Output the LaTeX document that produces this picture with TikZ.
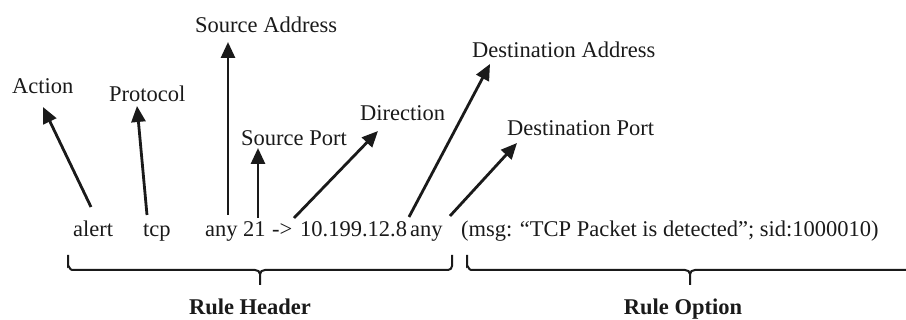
\documentclass[tikz,border=0pt]{standalone}
\usepackage{fontspec}
\setmainfont{Liberation Serif}
\usetikzlibrary{arrows.meta}
\definecolor{ink}{HTML}{1A1A1A}
\tikzset{
  lbl/.style={anchor=base west, inner sep=0pt, text=ink,
    font=\fontsize{22.5}{27}\selectfont},
  tok/.style={lbl},
  part/.style={anchor=base, inner sep=0pt, text=ink,
    font=\fontsize{22.5}{27}\selectfont\bfseries},
  arr/.style={draw=ink, line width=2.8pt,
    -{Triangle[length=16pt,width=14pt]}},
  brace/.style={draw=ink, line width=2pt},
}
\begin{document}
\begin{tikzpicture}[x=1pt,y=-1pt]
\useasboundingbox (0,0) rectangle (906,320);

% the rule itself
\node[tok] (alert) at (73,237) {alert};
\node[tok] (tcp)   at (143,237) {tcp};
\node[tok] (srcip) at (205,237) {any};
\node[tok] (sport) at (243,237) {21};
\node[tok] (dir)   at (272,237) {->};
\node[tok] (dstip) at (300,237) {10.199.12.8};
\node[tok] (dport) at (410,237) {any};
\node[tok] (opts)  at (461,237) {(msg: “TCP Packet is detected”; sid:1000010)};

% field names
\node[lbl] (action)   at (12,94)  {Action};
\node[lbl] (protocol) at (109,102) {Protocol};
\node[lbl] (saddr)    at (195,33)  {Source Address};
\node[lbl] (sportl)   at (241,146) {Source Port};
\node[lbl] (direction) at (360,121) {Direction};
\node[lbl] (daddr)    at (472,58)  {Destination Address};
\node[lbl] (dportl)   at (507,136) {Destination Port};

% arrow ends
\coordinate (a0) at (91,207);  \coordinate (a1) at (43,107);
\coordinate (p0) at (147,215); \coordinate (p1) at (137,106);
\coordinate (s0) at (228,215); \coordinate (s1) at (228,42);
\coordinate (q0) at (258,218); \coordinate (q1) at (258,148);
\coordinate (d0) at (294,218); \coordinate (d1) at (378,131);
\coordinate (e0) at (409,217); \coordinate (e1) at (490,64);
\coordinate (f0) at (450,216); \coordinate (f1) at (517,143);

\draw[arr] (a0) -- (a1);
\draw[arr] (p0) -- (p1);
\draw[arr] (s0) -- (s1);
\draw[arr] (q0) -- (q1);
\draw[arr] (d0) -- (d1);
\draw[arr] (e0) -- (e1);
\draw[arr] (f0) -- (f1);

% braces
\draw[brace] (68,255) -- (68,266) to[out=90,in=180] (72,270) -- (255,270)
  to[out=0,in=90] (260,274) -- (260,285);
\draw[brace] (260,274) to[out=90,in=180] (265,270) -- (448,270)
  to[out=0,in=-90] (452,266) -- (452,255);
\draw[brace] (467,255) -- (467,266) to[out=90,in=180] (471,270) -- (685,270)
  to[out=0,in=90] (690,274) -- (690,285);
\draw[brace] (690,274) to[out=90,in=180] (695,270) -- (910,270);

\node[part] (header) at (250,314.5) {Rule Header};
\node[part] (option) at (683,314.5) {Rule Option};
\end{tikzpicture}
\end{document}
